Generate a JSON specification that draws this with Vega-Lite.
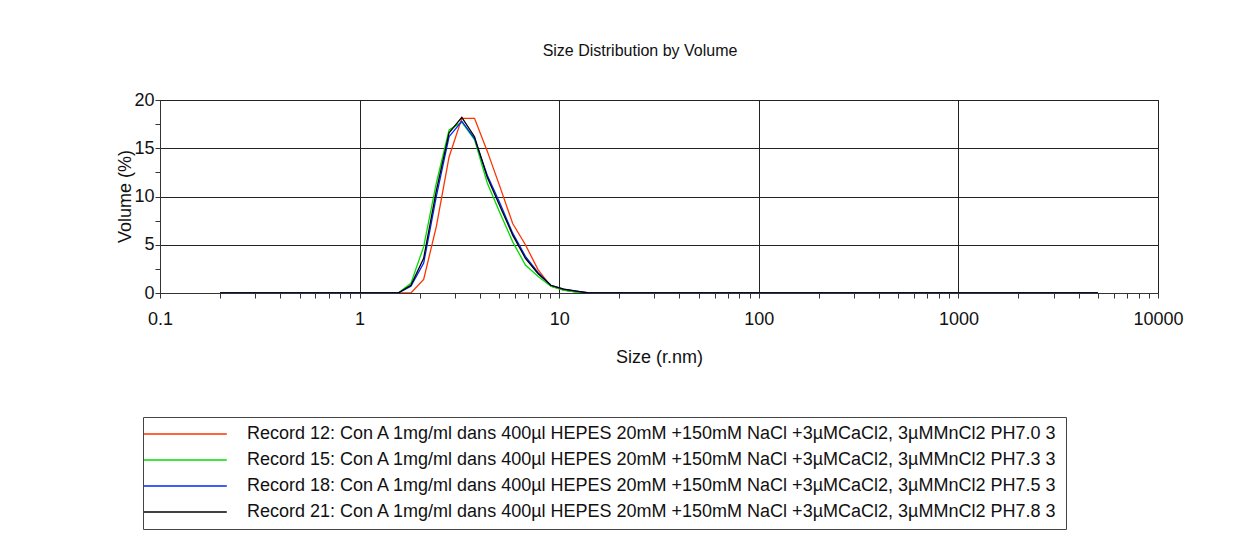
{
  "$schema": "https://vega.github.io/schema/vega-lite/v6.json",
  "autosize": "none",
  "width": 998,
  "height": 193,
  "padding": {"left": 160, "top": 100, "right": 89, "bottom": 245},
  "background": "white",
  "title": {"text": "Size Distribution by Volume", "anchor": "middle", "dx": -19, "offset": 32, "font": "Liberation Sans", "fontSize": 16, "fontWeight": "normal", "color": "#111"},
  "datasets": {
    "labels": [
      {"key": "r12", "record": "Record 12: Con A 1mg/ml dans 400µl HEPES 20mM +150mM NaCl +3µMCaCl2, 3µMMnCl2 PH7.0 3"},
      {"key": "r15", "record": "Record 15: Con A 1mg/ml dans 400µl HEPES 20mM +150mM NaCl +3µMCaCl2, 3µMMnCl2 PH7.3 3"},
      {"key": "r18", "record": "Record 18: Con A 1mg/ml dans 400µl HEPES 20mM +150mM NaCl +3µMCaCl2, 3µMMnCl2 PH7.5 3"},
      {"key": "r21", "record": "Record 21: Con A 1mg/ml dans 400µl HEPES 20mM +150mM NaCl +3µMCaCl2, 3µMMnCl2 PH7.8 3"}
    ]
  },
  "data": {"values": [
    {"size": 0.2, "r12": 0, "r15": 0, "r18": 0, "r21": 0},
    {"size": 0.2316, "r12": 0, "r15": 0, "r18": 0, "r21": 0},
    {"size": 0.2683, "r12": 0, "r15": 0, "r18": 0, "r21": 0},
    {"size": 0.3107, "r12": 0, "r15": 0, "r18": 0, "r21": 0},
    {"size": 0.3598, "r12": 0, "r15": 0, "r18": 0, "r21": 0},
    {"size": 0.4167, "r12": 0, "r15": 0, "r18": 0, "r21": 0},
    {"size": 0.4826, "r12": 0, "r15": 0, "r18": 0, "r21": 0},
    {"size": 0.5589, "r12": 0, "r15": 0, "r18": 0, "r21": 0},
    {"size": 0.647, "r12": 0, "r15": 0, "r18": 0, "r21": 0},
    {"size": 0.7494, "r12": 0, "r15": 0, "r18": 0, "r21": 0},
    {"size": 0.8678, "r12": 0, "r15": 0, "r18": 0, "r21": 0},
    {"size": 1.005, "r12": 0, "r15": 0, "r18": 0, "r21": 0},
    {"size": 1.164, "r12": 0, "r15": 0, "r18": 0, "r21": 0},
    {"size": 1.348, "r12": 0, "r15": 0, "r18": 0, "r21": 0},
    {"size": 1.561, "r12": 0, "r15": 0, "r18": 0, "r21": 0},
    {"size": 1.807, "r12": 0, "r15": 1.0, "r18": 0.7, "r21": 0.8},
    {"size": 2.094, "r12": 1.4, "r15": 4.8, "r18": 3.1, "r21": 3.6},
    {"size": 2.424, "r12": 6.9, "r15": 11.4, "r18": 10.0, "r21": 10.6},
    {"size": 2.807, "r12": 14.1, "r15": 16.9, "r18": 16.2, "r21": 16.6},
    {"size": 3.251, "r12": 18.1, "r15": 17.7, "r18": 17.8, "r21": 18.2},
    {"size": 3.765, "r12": 18.1, "r15": 15.9, "r18": 16.0, "r21": 16.2},
    {"size": 4.361, "r12": 14.7, "r15": 11.4, "r18": 12.2, "r21": 12.0},
    {"size": 5.05, "r12": 11.0, "r15": 8.3, "r18": 9.3, "r21": 9.0},
    {"size": 5.848, "r12": 7.2, "r15": 5.3, "r18": 6.2, "r21": 6.0},
    {"size": 6.772, "r12": 5.0, "r15": 2.9, "r18": 3.8, "r21": 3.6},
    {"size": 7.843, "r12": 2.4, "r15": 1.7, "r18": 2.1, "r21": 2.0},
    {"size": 9.082, "r12": 0.7, "r15": 0.7, "r18": 0.8, "r21": 0.8},
    {"size": 10.52, "r12": 0.3, "r15": 0.3, "r18": 0.4, "r21": 0.4},
    {"size": 12.18, "r12": 0.1, "r15": 0.1, "r18": 0.2, "r21": 0.2},
    {"size": 14.11, "r12": 0, "r15": 0, "r18": 0, "r21": 0},
    {"size": 16.34, "r12": 0, "r15": 0, "r18": 0, "r21": 0},
    {"size": 18.92, "r12": 0, "r15": 0, "r18": 0, "r21": 0},
    {"size": 21.91, "r12": 0, "r15": 0, "r18": 0, "r21": 0},
    {"size": 25.37, "r12": 0, "r15": 0, "r18": 0, "r21": 0},
    {"size": 29.38, "r12": 0, "r15": 0, "r18": 0, "r21": 0},
    {"size": 34.02, "r12": 0, "r15": 0, "r18": 0, "r21": 0},
    {"size": 39.4, "r12": 0, "r15": 0, "r18": 0, "r21": 0},
    {"size": 45.63, "r12": 0, "r15": 0, "r18": 0, "r21": 0},
    {"size": 52.84, "r12": 0, "r15": 0, "r18": 0, "r21": 0},
    {"size": 61.19, "r12": 0, "r15": 0, "r18": 0, "r21": 0},
    {"size": 70.86, "r12": 0, "r15": 0, "r18": 0, "r21": 0},
    {"size": 82.06, "r12": 0, "r15": 0, "r18": 0, "r21": 0},
    {"size": 95.06, "r12": 0, "r15": 0, "r18": 0, "r21": 0},
    {"size": 110.1, "r12": 0, "r15": 0, "r18": 0, "r21": 0},
    {"size": 127.5, "r12": 0, "r15": 0, "r18": 0, "r21": 0},
    {"size": 147.6, "r12": 0, "r15": 0, "r18": 0, "r21": 0},
    {"size": 171.0, "r12": 0, "r15": 0, "r18": 0, "r21": 0},
    {"size": 198.0, "r12": 0, "r15": 0, "r18": 0, "r21": 0},
    {"size": 229.3, "r12": 0, "r15": 0, "r18": 0, "r21": 0},
    {"size": 265.6, "r12": 0, "r15": 0, "r18": 0, "r21": 0},
    {"size": 307.5, "r12": 0, "r15": 0, "r18": 0, "r21": 0},
    {"size": 356.2, "r12": 0, "r15": 0, "r18": 0, "r21": 0},
    {"size": 412.5, "r12": 0, "r15": 0, "r18": 0, "r21": 0},
    {"size": 477.7, "r12": 0, "r15": 0, "r18": 0, "r21": 0},
    {"size": 553.2, "r12": 0, "r15": 0, "r18": 0, "r21": 0},
    {"size": 640.6, "r12": 0, "r15": 0, "r18": 0, "r21": 0},
    {"size": 741.9, "r12": 0, "r15": 0, "r18": 0, "r21": 0},
    {"size": 859.2, "r12": 0, "r15": 0, "r18": 0, "r21": 0},
    {"size": 995.0, "r12": 0, "r15": 0, "r18": 0, "r21": 0},
    {"size": 1152, "r12": 0, "r15": 0, "r18": 0, "r21": 0},
    {"size": 1335, "r12": 0, "r15": 0, "r18": 0, "r21": 0},
    {"size": 1545, "r12": 0, "r15": 0, "r18": 0, "r21": 0},
    {"size": 1790, "r12": 0, "r15": 0, "r18": 0, "r21": 0},
    {"size": 2073, "r12": 0, "r15": 0, "r18": 0, "r21": 0},
    {"size": 2400, "r12": 0, "r15": 0, "r18": 0, "r21": 0},
    {"size": 2780, "r12": 0, "r15": 0, "r18": 0, "r21": 0},
    {"size": 3219, "r12": 0, "r15": 0, "r18": 0, "r21": 0},
    {"size": 3728, "r12": 0, "r15": 0, "r18": 0, "r21": 0},
    {"size": 4317, "r12": 0, "r15": 0, "r18": 0, "r21": 0},
    {"size": 5000, "r12": 0, "r15": 0, "r18": 0, "r21": 0}
  ]},
  "transform": [
    {"fold": ["r12", "r15", "r18", "r21"], "as": ["key", "volume"]},
    {"lookup": "key", "from": {"data": {"name": "labels"}, "key": "key", "fields": ["record"]}}
  ],
  "mark": {"type": "line", "strokeWidth": 1.3, "clip": true},
  "encoding": {
    "x": {
      "field": "size", "type": "quantitative",
      "scale": {"type": "log", "domain": [0.1, 10000], "nice": false},
      "axis": {
        "title": "Size (r.nm)",
        "values": [0.1, 0.2, 0.3, 0.4, 0.5, 0.6, 0.7, 0.8, 0.9, 1, 2, 3, 4, 5, 6, 7, 8, 9, 10, 20, 30, 40, 50, 60, 70, 80, 90, 100, 200, 300, 400, 500, 600, 700, 800, 900, 1000, 2000, 3000, 4000, 5000, 6000, 7000, 8000, 9000, 10000],
        "format": "~g",
        "labelExpr": "abs(log(datum.value)/LN10 - round(log(datum.value)/LN10)) < 0.01 ? datum.label : ''",
        "labelOverlap": false,
        "labelFlush": false,
        "labelBound": false,
        "grid": true,
        "gridColor": "#222",
        "gridWidth": 1,
        "gridOpacity": {"condition": {"test": "abs(log(datum.value)/LN10 - round(log(datum.value)/LN10)) < 0.01", "value": 1}, "value": 0},
        "tickSize": 5,
        "tickColor": "#333",
        "domainColor": "#333",
        "labelFont": "Liberation Sans",
        "labelFontSize": 18,
        "labelColor": "#111",
        "labelPadding": 12,
        "titleFont": "Liberation Sans",
        "titleFontSize": 18,
        "titleFontWeight": "normal",
        "titleColor": "#111",
        "titleBaseline": "middle",
        "titleY": 64,
        "titleX": 499
      }
    },
    "y": {
      "field": "volume", "type": "quantitative",
      "scale": {"domain": [0, 20], "nice": false},
      "axis": {
        "title": "Volume (%)",
        "values": [0, 2.5, 5, 7.5, 10, 12.5, 15, 17.5, 20],
        "labelExpr": "datum.value % 5 == 0 ? datum.label : ''",
        "grid": true,
        "gridColor": "#222",
        "gridOpacity": {"condition": {"test": "datum.value % 5 == 0", "value": 1}, "value": 0},
        "tickSize": 5,
        "tickColor": "#333",
        "domainColor": "#333",
        "labelFont": "Liberation Sans",
        "labelFontSize": 18,
        "labelColor": "#111",
        "labelPadding": 1,
        "labelOverlap": false,
        "titleFont": "Liberation Sans",
        "titleFontSize": 18,
        "titleFontWeight": "normal",
        "titleColor": "#111",
        "titleAngle": -90,
        "titleAlign": "center",
        "titleBaseline": "middle",
        "titleX": -35,
        "titleY": 96
      }
    },
    "color": {
      "field": "record", "type": "nominal",
      "scale": {
        "domain": [
          "Record 12: Con A 1mg/ml dans 400µl HEPES 20mM +150mM NaCl +3µMCaCl2, 3µMMnCl2 PH7.0 3",
          "Record 15: Con A 1mg/ml dans 400µl HEPES 20mM +150mM NaCl +3µMCaCl2, 3µMMnCl2 PH7.3 3",
          "Record 18: Con A 1mg/ml dans 400µl HEPES 20mM +150mM NaCl +3µMCaCl2, 3µMMnCl2 PH7.5 3",
          "Record 21: Con A 1mg/ml dans 400µl HEPES 20mM +150mM NaCl +3µMCaCl2, 3µMMnCl2 PH7.8 3"
        ],
        "range": ["#ff3300", "#00dd00", "#0026ff", "#000000"]
      },
      "legend": {
        "title": null,
        "orient": "none",
        "legendX": -17,
        "legendY": 317,
        "symbolType": "M-4,0H16.7",
        "symbolSize": 64,
        "symbolStrokeWidth": 1.3,
        "symbolFillColor": "transparent",
        "labelFont": "Liberation Sans",
        "labelFontSize": 18,
        "labelColor": "#111",
        "labelLimit": 2000,
        "labelOffset": 78,
        "labelExpr": "datum.label + '                 '",
        "rowPadding": 8,
        "strokeColor": "#444",
        "padding": 8
      }
    }
  },
  "config": {
    "view": {"stroke": "#222", "strokeWidth": 1}
  }
}
